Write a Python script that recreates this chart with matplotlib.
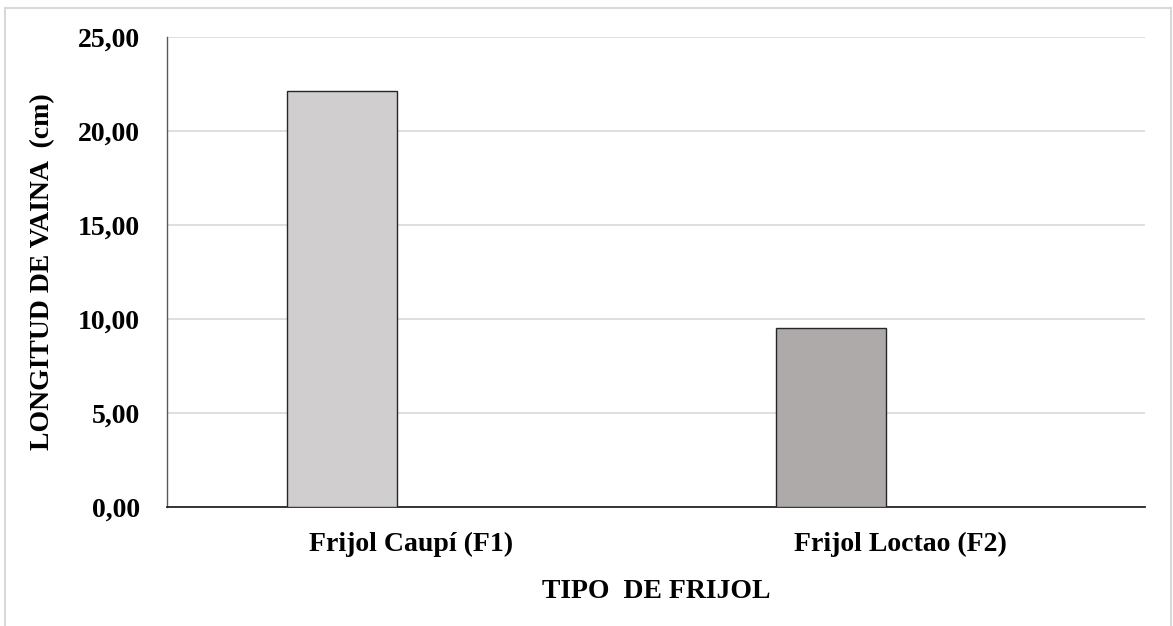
import matplotlib
matplotlib.use("Agg")
import matplotlib.pyplot as plt
from matplotlib.patches import Rectangle
import numpy as np

categories = ["Frijol Caupí (F1)", "Frijol Loctao (F2)"]
values = [22.13, 9.52]
bar_colors = ["#D0CECE", "#AEAAAA"]
yticks = [0, 5, 10, 15, 20, 25]
ytick_labels = ["0,00", "5,00", "10,00", "15,00", "20,00", "25,00"]

plt.rcParams["font.family"] = ["Liberation Serif", "DejaVu Serif"]
plt.rcParams["font.weight"] = "bold"

fig = plt.figure(figsize=(11.73, 6.26), dpi=100)
ax = fig.add_axes([167 / 1173, 1 - 507 / 626, (1145 - 167) / 1173, (507 - 37) / 626])

# outer chart frame
fig.patches.append(Rectangle((5 / 1173, -0.05), (1166 / 1173), 1.05 - 8 / 626,
                             transform=fig.transFigure, fill=False,
                             edgecolor="#D9D9D9", linewidth=1.5))

x = np.arange(len(categories))
ax.bar(x - 0.143, values, width=0.225, color=bar_colors,
       edgecolor="#262626", linewidth=1.0, zorder=3)

ax.set_xlim(-0.5, 1.5)
ax.set_ylim(0, 25)
ax.set_yticks(yticks)
ax.set_yticklabels(ytick_labels, fontsize=20, fontweight="bold")
ax.set_xticks(x)
ax.set_xticklabels(categories, fontsize=20, fontweight="bold")
ax.tick_params(axis="both", length=0)
ax.tick_params(axis="y", pad=19.5)
ax.tick_params(axis="x", pad=18)

ax.yaxis.grid(True, color="#D9D9D9", linewidth=1.2, zorder=0)
ax.set_axisbelow(True)
for s in ["top", "right"]:
    ax.spines[s].set_visible(False)
ax.spines["left"].set_color("#595959")
ax.spines["left"].set_linewidth(1.0)
ax.spines["bottom"].set_color("#262626")
ax.spines["bottom"].set_linewidth(1.3)

ax.set_xlabel("TIPO  DE FRIJOL", fontsize=20, fontweight="bold", labelpad=16)
ax.set_ylabel("LONGITUD DE VAINA  (cm)", fontsize=20, fontweight="bold", labelpad=16)

fig.savefig("out.png", dpi=100)
